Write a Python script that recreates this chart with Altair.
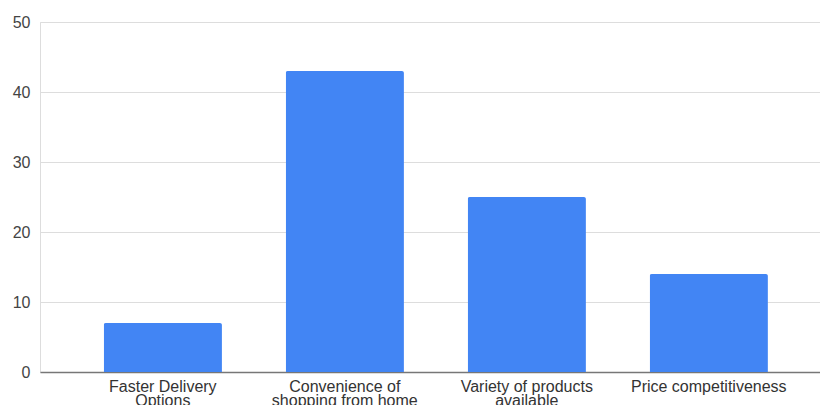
import altair as alt
import pandas as pd

categories = ["Faster Delivery Options", "Convenience of shopping from home",
              "Variety of products available", "Price competitiveness"]
values = [7, 43, 25, 14]
label_lines = {
    "Faster Delivery Options": ["Faster Delivery", "Options"],
    "Convenience of shopping from home": ["Convenience of", "shopping from home"],
    "Variety of products available": ["Variety of products", "available"],
    "Price competitiveness": ["Price competitiveness"],
}
y_ticks = [0, 10, 20, 30, 40, 50]

df = pd.DataFrame({"category": categories, "value": values})

expr = "''"
for k, lines in reversed(list(label_lines.items())):
    arr = "[" + ",".join("'" + l + "'" for l in lines) + "]"
    expr = f"datum.label == '{k}' ? {arr} : ({expr})"

chart = alt.Chart(df).mark_bar(
    color="#4285F4", cornerRadiusTopLeft=2, cornerRadiusTopRight=2
).encode(
    x=alt.X("category:N", sort=categories, title=None,
            scale=alt.Scale(paddingInner=0.35, paddingOuter=0.318, align=0.55),
            axis=alt.Axis(labelExpr=expr, labelAngle=0, labelFont="Liberation Sans",
                          labelFontSize=16, labelColor="#333333", labelPadding=6,
                          labelBaseline="top", labelLineHeight=14.5, ticks=False,
                          domainColor="#777777", domainWidth=1.5, grid=False)),
    y=alt.Y("value:Q", title=None,
            scale=alt.Scale(domain=[0, 50], nice=False),
            axis=alt.Axis(values=y_ticks, labelFont="Liberation Sans", labelFontSize=16,
                          labelColor="#444444", labelPadding=10, ticks=False, domain=False,
                          gridColor="#dddddd", gridWidth=1)),
).properties(
    width=780, height=350,
    autosize=alt.AutoSizeParams(type="none"),
    padding={"left": 40, "top": 22, "right": 0, "bottom": 33},
).configure_view(stroke=None).configure(background="white")

chart.save("out.html", embed_options={"renderer": "svg", "actions": False})
